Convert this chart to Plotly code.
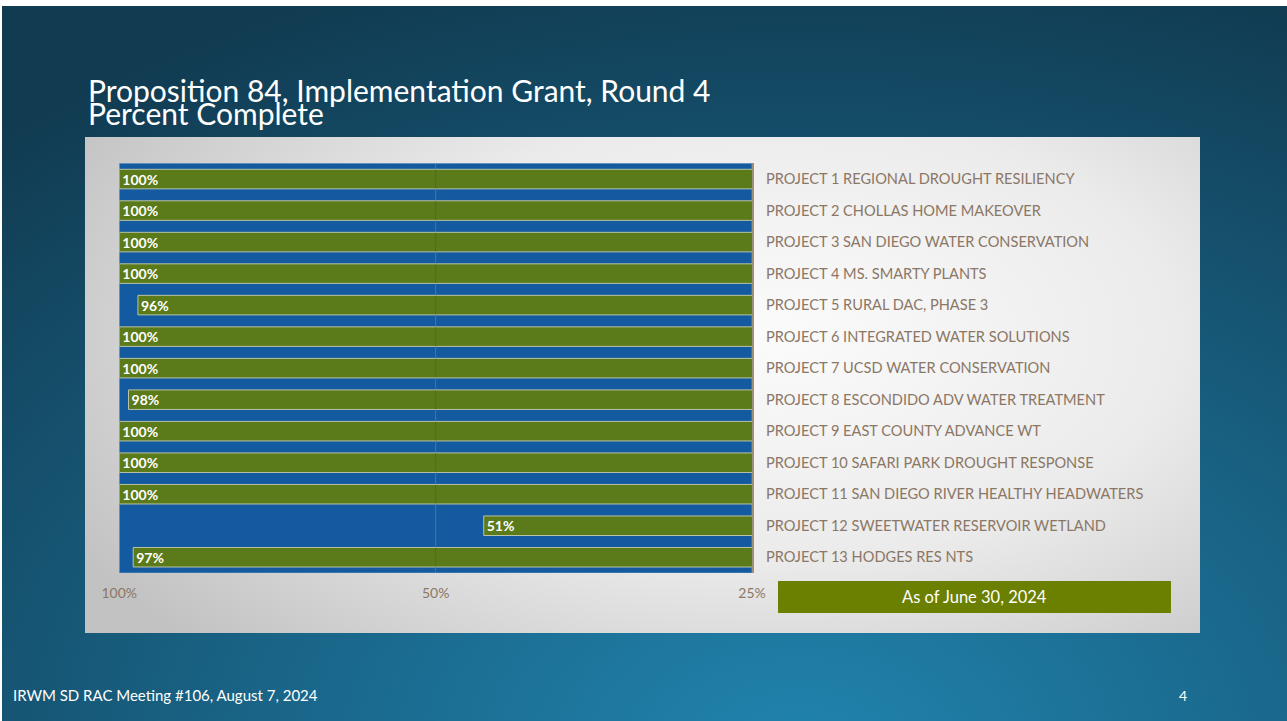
import math
import plotly.graph_objects as go

W, H = 1287, 721

projects = [
    "PROJECT 1 REGIONAL DROUGHT RESILIENCY",
    "PROJECT 2 CHOLLAS HOME MAKEOVER",
    "PROJECT 3 SAN DIEGO WATER CONSERVATION",
    "PROJECT 4 MS. SMARTY PLANTS",
    "PROJECT 5 RURAL DAC, PHASE 3",
    "PROJECT 6 INTEGRATED WATER SOLUTIONS",
    "PROJECT 7 UCSD WATER CONSERVATION",
    "PROJECT 8 ESCONDIDO ADV WATER TREATMENT",
    "PROJECT 9 EAST COUNTY ADVANCE WT",
    "PROJECT 10 SAFARI PARK DROUGHT RESPONSE",
    "PROJECT 11 SAN DIEGO RIVER HEALTHY HEADWATERS",
    "PROJECT 12 SWEETWATER RESERVOIR WETLAND",
    "PROJECT 13 HODGES RES NTS",
]
# bar lengths as drawn (log axis), and the labels printed on them
bar_values = [100, 100, 100, 100, 96, 100, 100, 98, 100, 100, 100, 45, 97]
bar_labels = ["100%", "100%", "100%", "100%", "96%", "100%", "100%",
              "98%", "100%", "100%", "100%", "51%", "97%"]
tick_vals = [100, 50, 25]
tick_text = ["100%", "50%", "25%"]

title_1 = "Proposition 84, Implementation Grant, Round 4"
title_2 = "Percent Complete"
footer = "IRWM SD RAC Meeting #106, August 7, 2024"
slide_no = "4"
note = "As of June 30, 2024"

FONT = "Lato"
BROWN = "#8b7765"
GREEN = "#5b7a1a"
BLUE = "#135aa0"


def px(x):
    return x / W


def py(y):
    return 1 - y / H


def gradient_box(cx, cy, hw, hh):
    return ([cx - hw, cx + hw, cx + hw, cx - hw, cx - hw],
            [cy - hh, cy - hh, cy + hh, cy + hh, cy - hh])


fig = go.Figure()

# slide background (subplot 1)
bx, by = gradient_box(0.62, -0.05, 0.95, 1.15)
fig.add_trace(go.Scatter(
    x=bx, y=by, mode="none", fill="toself", hoverinfo="skip",
    fillgradient=dict(type="radial",
                      colorscale=[[0, "#2184ae"], [0.45, "#196487"], [1, "#113b51"]]),
    xaxis="x", yaxis="y"))

# light panel (subplot 2)
gx, gy = gradient_box(0.62, 0.6, 0.72, 0.9)
fig.add_trace(go.Scatter(
    x=gx, y=gy, mode="none", fill="toself", hoverinfo="skip",
    fillgradient=dict(type="radial",
                      colorscale=[[0, "#fbfbfb"], [0.5, "#ebebeb"], [1, "#c2c2c2"]]),
    xaxis="x2", yaxis="y2"))

# blue plot area + 50% gridline (subplot 3, plain 0..1 axes)
log_lo, log_hi = math.log10(tick_vals[0]), math.log10(tick_vals[-1])
mid_frac = (log_lo - math.log10(tick_vals[1])) / (log_lo - log_hi)
fig.add_trace(go.Scatter(
    x=[0, 1, 1, 0, 0], y=[0, 0, 1, 1, 0], mode="lines", fill="toself",
    fillcolor=BLUE, line=dict(color="#5d8cc0", width=1), hoverinfo="skip",
    xaxis="x3", yaxis="y3"))
fig.add_trace(go.Scatter(
    x=[mid_frac, mid_frac], y=[0, 1], mode="lines",
    line=dict(color="rgba(170,180,190,0.45)", width=1), hoverinfo="skip",
    xaxis="x3", yaxis="y3"))

# the bars (overlay on subplot 3)
fig.add_trace(go.Bar(
    x=bar_values, y=projects, orientation="h",
    width=0.62,
    marker=dict(color=GREEN, line=dict(color="#b9c3a6", width=1)),
    text=bar_labels, textposition="inside", insidetextanchor="end",
    textangle=0, constraintext="none",
    textfont=dict(family=FONT, size=14, color="white", weight="bold"),
    hoverinfo="skip",
    xaxis="x4", yaxis="y4"))

hidden = dict(visible=False, range=[0, 1], fixedrange=True, automargin=False)
fig.update_layout(
    width=W, height=H,
    margin=dict(l=0, r=0, t=0, b=0, pad=0, autoexpand=False),
    paper_bgcolor="white", plot_bgcolor="rgba(0,0,0,0)",
    showlegend=False,
    font=dict(family=FONT),
    xaxis=dict(hidden, domain=[px(2), 1], anchor="y"),
    yaxis=dict(hidden, domain=[0, py(6)], anchor="x"),
    xaxis2=dict(hidden, domain=[px(85), px(1200)], anchor="y2"),
    yaxis2=dict(hidden, domain=[py(633), py(137)], anchor="x2"),
    xaxis3=dict(hidden, domain=[px(119.3), px(752)], anchor="y3"),
    yaxis3=dict(hidden, domain=[py(573), py(163.3)], anchor="x3"),
    xaxis4=dict(
        type="log", range=[log_lo, log_hi], overlaying="x3", anchor="y4",
        tickvals=tick_vals, ticktext=tick_text,
        tickfont=dict(family=FONT, size=14, color=BROWN),
        ticks="outside", ticklen=7, tickcolor="rgba(0,0,0,0)",
        showgrid=False, showline=False, zeroline=False,
        fixedrange=True, automargin=False),
    yaxis4=dict(
        type="category", autorange="reversed", side="right",
        overlaying="y3", anchor="x4",
        tickfont=dict(family=FONT, size=14.6, color=BROWN),
        ticks="outside", ticklen=9, tickcolor="rgba(0,0,0,0)",
        showline=True, linecolor="#a08f78", linewidth=2,
        showgrid=False, fixedrange=True, automargin=False),
    bargap=0.38,
)

# faint 50% line showing through the bars
fig.add_shape(type="line", xref="x3", yref="y3", x0=mid_frac, x1=mid_frac, y0=0, y1=1,
              line=dict(color="rgba(40,60,50,0.22)", width=1), layer="above")

# "As of" box
fig.add_shape(type="rect", xref="paper", yref="paper",
              x0=px(778), x1=px(1171), y0=py(613), y1=py(581),
              fillcolor="#6b8000", line=dict(width=0))
fig.add_annotation(x=px(974.5), y=py(597), xref="paper", yref="paper",
                   xanchor="center", yanchor="middle",
                   text=note, showarrow=False,
                   font=dict(family=FONT, size=16.5, color="white"))

# titles and footer
fig.add_annotation(x=px(86), y=py(90), xref="paper", yref="paper",
                   xanchor="left", yanchor="middle", text=title_1, showarrow=False,
                   font=dict(family=FONT, size=30, color="white"))
fig.add_annotation(x=px(86), y=py(113), xref="paper", yref="paper",
                   xanchor="left", yanchor="middle", text=title_2, showarrow=False,
                   font=dict(family=FONT, size=30, color="white"))
fig.add_annotation(x=px(11), y=py(695), xref="paper", yref="paper",
                   xanchor="left", yanchor="middle", text=footer, showarrow=False,
                   font=dict(family=FONT, size=15, color="white"))
fig.add_annotation(x=px(1183), y=py(695), xref="paper", yref="paper",
                   xanchor="center", yanchor="middle", text=slide_no, showarrow=False,
                   font=dict(family=FONT, size=14, color="white"))

fig.write_html("out.html", config={"displayModeBar": False},
               post_script="document.body.style.margin = '0';")
